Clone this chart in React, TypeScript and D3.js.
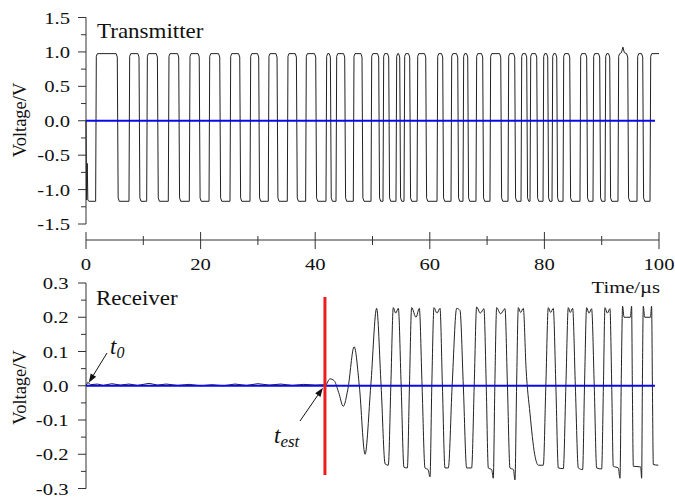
import React from "react";
import * as d3 from "d3";

// ---------- data ----------
const timeTicks = [0, 20, 40, 60, 80, 100];
const timeMinor = [10, 30, 50, 70, 90];
const topTicks = [-1.5, -1.0, -0.5, 0.0, 0.5, 1.0, 1.5];
const topTickLabels = ["-1.5", "-1.0", "-0.5", "0.0", "0.5", "1.0", "1.5"];
const topMinor = [-1.25, -0.75, -0.25, 0.25, 0.75, 1.25];
const botTicks = [-0.3, -0.2, -0.1, 0.0, 0.1, 0.2, 0.3];
const botTickLabels = ["-0.3", "-0.2", "-0.1", "0.0", "0.1", "0.2", "0.3"];
const botMinor = [-0.25, -0.15, -0.05, 0.05, 0.15, 0.25];

// transmitter: leading transient, then high intervals [start, end] in µs
const txLeadT = [0, 0.1, 0.22, 0.32, 0.5];
const txLeadV = [0, -1.15, -0.62, -1.15, -1.17];
const txHighStart = [1.68, 7.5, 10.59, 14.36, 18.03, 21.47, 25.13, 28.62, 31.81, 35.13, 38.33, 41.88, 43.63, 46.65, 49.74, 51.83, 54.1, 55.5, 57.77, 61.26, 63.7, 65.79, 68.06, 70.5, 73.65, 75.92, 77.49, 79.76, 81.33, 83.25, 86.21, 88.48, 90.58, 92.84, 96.16, 98.43];
const txHighEnd = [5.51, 9.3, 12.51, 16.23, 19.81, 23.39, 26.88, 30.19, 33.39, 36.77, 40.14, 42.7, 45.2, 48.22, 51.13, 52.88, 54.8, 56.54, 59.34, 62.3, 64.92, 66.67, 69.28, 72.43, 74.87, 76.96, 78.71, 80.63, 82.2, 84.47, 87.43, 89.7, 91.45, 94.59, 97.21, 100];
const txHigh = 0.975;
const txLow = -1.17;
const txSpikeT = [93.45, 93.7, 93.95];
const txSpikeV = [0.99, 1.07, 0.99];

// receiver: pre-trigger noise (linear) and received signal (smooth), t in µs, V
const noiseT = [0, 0.3, 0.8, 2, 3, 4.5, 6, 7.5, 9, 11, 12.5, 14, 16, 18, 20, 22, 24, 26, 28, 30, 32, 34, 36, 38, 40, 41.5, 41.9];
const noiseV = [0, 0.01, 0.003, 0.005, 0.001, 0.006, 0.002, 0.005, 0.001, 0.007, 0.002, 0.005, 0.001, 0.004, 0.0, 0.003, 0.0, 0.005, 0.001, 0.006, 0.002, 0.005, 0.001, 0.004, 0.002, 0.003, 0.0];
const rxT = [41.9, 42.6, 43.3, 44.1, 44.9, 45.7, 46.8, 47.7, 48.7, 49.7, 50.72, 51.5, 52.2, 52.76, 53.2, 53.63, 54.04, 54.51, 55.0,
  55.49, 56.08, 56.45, 56.83, 57.59, 58.17, 58.65, 59.16, 59.7, 60.03, 60.35, 60.73, 61.25, 61.78, 62.2, 62.65, 63.23,
  63.9, 64.69, 65.27, 65.85, 66.43, 67.3, 67.75, 68.17, 68.82, 69.45, 69.85, 70.21, 70.8, 71.08, 71.35, 71.67, 72.36,
  73.12, 73.55, 73.99, 74.6, 74.86, 75.15, 75.45, 75.85, 76.32, 76.8, 77.48, 78.3, 78.94, 79.81, 80.25, 80.68, 81.09,
  81.55, 82.0, 82.43, 83.3, 83.75, 84.17, 84.52, 84.93, 85.4, 85.92, 86.67, 87.0, 87.37, 87.78, 88.24, 88.7, 89.12,
  89.99, 90.3, 90.57, 90.98, 91.44, 91.75, 92.02, 92.9, 93.19, 93.4, 93.65, 93.9, 95.0, 95.22, 95.35, 95.52, 96.8,
  96.97, 97.1, 97.26, 97.5, 98.5, 98.71, 98.85, 99.01, 99.88];
const rxV = [0.0, 0.02, 0.015, -0.02, -0.06, -0.01, 0.114, 0.0, -0.2, 0.0, 0.226, 0.0, -0.228, -0.232, 0, 0.228, 0.212, 0.226, 0,
  -0.238, -0.24, 0, 0.228, 0.2, 0.226, 0, -0.24, -0.245, -0.266, 0, 0.228, 0.212, 0.226, 0, -0.24, -0.24,
  0, 0.226, 0.22, 0, -0.24, -0.24, 0, 0.23, 0.212, 0.225, 0, -0.24, -0.245, -0.27, 0, 0.228, 0.21,
  0.225, 0, -0.24, -0.245, -0.275, 0, 0.228, 0.214, 0.226, 0.05, -0.08, -0.2, -0.232, -0.232, 0, 0.228, 0.214,
  0.226, 0, -0.24, -0.242, 0, 0.228, 0.214, 0.226, 0, -0.24, -0.245, 0, 0.228, 0.212, 0.225, 0, -0.24,
  -0.243, 0, 0.228, 0.212, 0.225, 0, -0.235, -0.24, -0.27, 0, 0.232, 0.2, 0.2, 0.232, 0, -0.235, -0.237,
  -0.27, 0, 0.232, 0.2, 0.2, 0.232, 0, -0.23, -0.232];

const zeroLineEnd = 99.3;
const tEst = 41.7;
const t0 = 0.3;

// ---------- component ----------
const FONT = "'Liberation Serif', 'Times New Roman', serif";

function Txt(props: any) {
  const { x, y, anchor = "start", size = 17.5, sx = 1.18, rotate = 0, italic = false, children } = props;
  return (
    <text
      transform={`translate(${x},${y}) rotate(${rotate}) scale(${sx},1)`}
      textAnchor={anchor}
      fontSize={size}
      fontFamily={FONT}
      fontStyle={italic ? "italic" : "normal"}
      fill="#111"
    >
      {children}
    </text>
  );
}

function Arrow({ x1, y1, x2, y2 }: any) {
  const a = Math.atan2(y2 - y1, x2 - x1);
  const L = 9, W = 3.2;
  const bx = x2 - L * Math.cos(a), by = y2 - L * Math.sin(a);
  const px = -Math.sin(a) * W, py = Math.cos(a) * W;
  return (
    <g>
      <line x1={x1} y1={y1} x2={bx} y2={by} stroke="#111" strokeWidth={1} />
      <polygon points={`${x2},${y2} ${bx + px},${by + py} ${bx - px},${by - py}`} fill="#111" />
    </g>
  );
}

export default function App() {
  const x = d3.scaleLinear().domain([0, 100]).range([86, 659]);
  const yTop = d3.scaleLinear().domain([-1.5, 1.5]).range([224, 17.5]);
  const yBot = d3.scaleLinear().domain([-0.3, 0.3]).range([488.5, 283]);

  // transmitter points
  const txPts: [number, number][] = txLeadT.map((t, i) => [t, txLeadV[i]]);
  txHighStart.forEach((s, i) => {
    const e = txHighEnd[i];
    txPts.push([s, txLow], [s + 0.12, txHigh - 0.04], [s + 0.3, txHigh]);
    if (e < 100) {
      txPts.push([e - 0.25, txHigh], [e - 0.05, txHigh - 0.05], [e + 0.1, txLow + 0.05], [e + 0.3, txLow]);
    } else {
      txPts.push([e, txHigh]);
    }
  });
  txSpikeT.forEach((t, i) => txPts.push([t, txSpikeV[i]]));
  txPts.sort((a, b) => a[0] - b[0]);

  const txLine = d3.line<[number, number]>().x((d) => x(d[0])).y((d) => yTop(d[1]));
  const noisePts: [number, number][] = noiseT.map((t, i) => [t, noiseV[i]]);
  const noiseLine = d3.line<[number, number]>().x((d) => x(d[0])).y((d) => yBot(d[1]));
  const rxPts: [number, number][] = rxT.map((t, i) => [t, rxV[i]]);
  const rxLine = d3
    .line<[number, number]>()
    .x((d) => x(d[0]))
    .y((d) => yBot(d[1]))
    .curve(d3.curveMonotoneX);

  const axisColor = "#333";
  const xAxisY = 240;

  return (
    <svg
      width={675}
      height={498}
      style={{ position: "absolute", left: 0, top: 0, background: "#fff" }}
    >
      <rect width={675} height={498} fill="#fff" />

      {/* ---------- top panel ---------- */}
      <line x1={x(0)} x2={x(0)} y1={yTop(1.5)} y2={yTop(-1.5)} stroke={axisColor} />
      {topTicks.map((v, i) => (
        <g key={"tt" + i}>
          <line x1={x(0) - 8} x2={x(0)} y1={yTop(v)} y2={yTop(v)} stroke={axisColor} />
          <Txt x={70} y={yTop(v) + 6} anchor="end">{topTickLabels[i]}</Txt>
        </g>
      ))}
      {topMinor.map((v, i) => (
        <line key={"tm" + i} x1={x(0) - 5} x2={x(0)} y1={yTop(v)} y2={yTop(v)} stroke={axisColor} />
      ))}
      <Txt x={26} y={120} anchor="middle" rotate={-90} sx={1} size={18.5}>Voltage/V</Txt>
      <Txt x={97} y={38} size={20} sx={1.15}>Transmitter</Txt>

      <path d={txLine(txPts) || ""} fill="none" stroke="#222" strokeWidth={1} />
      <line x1={x(0)} x2={x(zeroLineEnd)} y1={yTop(0)} y2={yTop(0)} stroke="#0a0ae6" strokeWidth={2} />

      {/* x axis (between panels) */}
      <line x1={x(0)} x2={x(100)} y1={xAxisY} y2={xAxisY} stroke={axisColor} />
      {timeTicks.map((t, i) => (
        <g key={"xt" + i}>
          <line x1={x(t)} x2={x(t)} y1={xAxisY - 8} y2={xAxisY + 9} stroke={axisColor} />
          <Txt x={x(t)} y={270} anchor="middle">{String(t)}</Txt>
        </g>
      ))}
      {timeMinor.map((t, i) => (
        <line key={"xm" + i} x1={x(t)} x2={x(t)} y1={xAxisY - 4} y2={xAxisY + 5} stroke={axisColor} />
      ))}
      <Txt x={660} y={293} anchor="end">Time/µs</Txt>

      {/* ---------- bottom panel ---------- */}
      <line x1={x(0)} x2={x(0)} y1={yBot(0.3)} y2={yBot(-0.3)} stroke={axisColor} />
      {botTicks.map((v, i) => (
        <g key={"bt" + i}>
          <line x1={x(0) - 8} x2={x(0)} y1={yBot(v)} y2={yBot(v)} stroke={axisColor} />
          <Txt x={68.5} y={yBot(v) + 6} anchor="end">{botTickLabels[i]}</Txt>
        </g>
      ))}
      {botMinor.map((v, i) => (
        <line key={"bm" + i} x1={x(0) - 5} x2={x(0)} y1={yBot(v)} y2={yBot(v)} stroke={axisColor} />
      ))}
      <Txt x={26} y={387.5} anchor="middle" rotate={-90} sx={1} size={18.5}>Voltage/V</Txt>
      <Txt x={96} y={305} size={20} sx={1.15}>Receiver</Txt>

      <path d={noiseLine(noisePts) || ""} fill="none" stroke="#222" strokeWidth={1} />
      <path d={rxLine(rxPts) || ""} fill="none" stroke="#222" strokeWidth={1} />
      <line x1={x(0)} x2={x(zeroLineEnd)} y1={yBot(0)} y2={yBot(0)} stroke="#0a0ae6" strokeWidth={2} />

      <line x1={x(tEst)} x2={x(tEst)} y1={297} y2={475} stroke="#ee1c1c" strokeWidth={3} />

      {/* annotations */}
      <Arrow x1={107} y1={353} x2={x(t0) + 1} y2={yBot(0) - 3} />
      <text x={110} y={354} fontSize={23} fontFamily={FONT} fontStyle="italic" fill="#111">
        t<tspan fontSize={16} dy={4}>0</tspan>
      </text>
      <Arrow x1={300} y1={421} x2={x(tEst) - 2} y2={yBot(0) + 2} />
      <text x={274} y={443} fontSize={23} fontFamily={FONT} fontStyle="italic" fill="#111">
        t<tspan fontSize={17} dy={4}>est</tspan>
      </text>
    </svg>
  );
}
